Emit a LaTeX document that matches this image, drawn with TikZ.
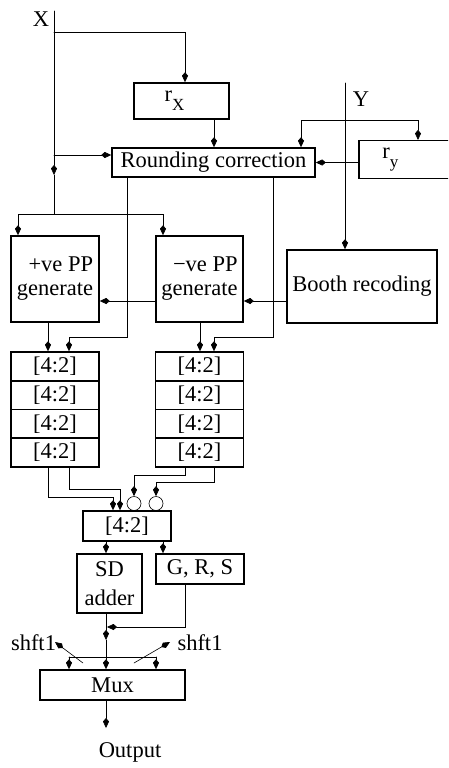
\documentclass[tikz,border=0pt]{standalone}
\usepackage{fontspec}
\setmainfont{Liberation Serif}
\usetikzlibrary{arrows.meta}
\newcommand{\lowsub}[1]{\raisebox{-9pt}{\fontsize{17}{17}\selectfont #1}}
\begin{document}
\begin{tikzpicture}[x=1pt, y=-1pt, font=\fontsize{22.5}{24}\selectfont, line width=0.6pt, line cap=round,
	arr/.style={-{Kite[length=10pt,width=6pt,inset=3.5pt]}},
	blk/.style={draw, line width=1.5pt, inner sep=0pt, align=center},
	cell/.style={blk, minimum width=88pt, minimum height=28.75pt},
	lbl/.style={inner sep=0pt}]
	\useasboundingbox (0,0) rectangle (448,768);
	\clip (0,0) rectangle (448,768);
	\node[blk, minimum width=95pt, minimum height=36pt] (rx) at (181.5,101) {r\lowsub{X}\hspace{14pt}};
	\node[blk, minimum width=203pt, minimum height=29pt] (round) at (213.5,162.5) {Rounding correction};
	\node[anchor=west, minimum width=120pt, minimum height=37pt, text width=74pt, inner xsep=23pt, inner ysep=0pt, align=left] (ry) at (359,159.5) {r\lowsub{y}};
	\draw[line width=1.5pt] (ry.north east) -- (ry.north west) -- (ry.south west) -- (ry.south east);
	\node[blk, minimum width=88pt, minimum height=86pt, align=right] (ppos) at (55,279) {+ve PP\\generate};
	\node[blk, minimum width=87pt, minimum height=86pt, align=right] (pneg) at (199.5,279) {−ve PP\\generate};
	\node[blk, minimum width=150pt, minimum height=73pt] (booth) at (362,286.5) {Booth recoding};
	\foreach \i/\y in {1/366.4, 2/395.1, 3/423.9, 4/452.6}{
		\node[cell] (l\i) at (55,\y) {[4:2]};
		\node[cell] (r\i) at (199.5,\y) {[4:2]};
	}
	\node[draw, circle, minimum size=14pt, inner sep=0pt] (c1) at (134,503.5) {};
	\node[draw, circle, minimum size=14pt, inner sep=0pt] (c2) at (156,503.5) {};
	\node[blk, minimum width=88pt, minimum height=30pt] (fin) at (127,526) {[4:2]};
	\node[blk, minimum width=65pt, minimum height=59pt] (sd) at (109.5,583.5) {SD\\[5pt]adder};
	\node[blk, minimum width=88pt, minimum height=30pt] (grs) at (200,569) {G, R, S};
	\node[blk, minimum width=145pt, minimum height=30pt] (mux) at (112.5,685) {Mux};
	\node[lbl] (xl) at (41,19.5) {X};
	\node[lbl] (yl) at (361,99) {Y};
	\node[lbl] (sl) at (33.5,643) {shft1};
	\node[lbl] (sr) at (200,643) {shft1};
	\node[lbl] (out) at (130,752) {Output};
	\coordinate (xtop) at (54,11);
	\coordinate (xbr) at (54,32);
	\coordinate (xrc) at (54,155);
	\coordinate (xmid) at (54,175);
	\coordinate (xsplit) at (54,214);
	\coordinate (ytop) at (345,83);
	\coordinate (ybr) at (345,120);
	\coordinate (sltip) at (55,642);
	\coordinate (srtip) at (170,642);
	\coordinate (sdmid) at (106,640);
	\coordinate (obot) at (106,728);
	\draw[arr] (xtop) -- (xmid);
	\draw (xmid) -- (xsplit);
	\draw[arr] (xbr) -| ([xshift=3.5pt]rx.north);
	\draw[arr] (xrc) -- (round.west |- xrc);
	\draw[arr] ([xshift=32.5pt]rx.south) -- ([xshift=32.5pt]rx.south |- round.north);
	\draw[arr] (ytop) -- (ytop |- booth.north);
	\draw[arr] (ybr) -| ([xshift=87.5pt]round.north);
	\draw[arr] (ybr) -| ([yshift=0.75pt]418,0 |- ry.north);
	\draw[arr] ([xshift=-0.75pt]ry.west |- round.east) -- (round.east);
	\draw[arr] (xsplit) -| ([xshift=-37pt]ppos.north);
	\draw[arr] (xsplit) -| ([xshift=-36.5pt]pneg.north);
	\draw[arr] (booth.west |- 0,301) -- (pneg.east |- 0,301);
	\draw[arr] (pneg.west |- 0,301) -- (ppos.east |- 0,301);
	\draw[arr] (round.south -| 127,0) |- (69,337) -- (l1.north -| 69,0);
	\draw[arr] (round.south -| 273,0) |- (214,337) -- (r1.north -| 214,0);
	\draw[arr] (ppos.south -| 48,0) -- (l1.north -| 48,0);
	\draw[arr] (pneg.south -| 200,0) -- (r1.north -| 200,0);
	\draw[arr] (l4.south -| 48,0) |- (113,497) -- (fin.north -| 113,0);
	\draw[arr] (l4.south -| 69,0) |- (120,489) -- (fin.north -| 120,0);
	\draw[arr] (r4.south -| 185,0) |- (134,475) -- (c1.north);
	\draw[arr] (r4.south -| 214,0) |- (156,482) -- (c2.north);
	\draw[arr] (fin.south -| 106,0) -- (sd.north -| 106,0);
	\draw[arr] (fin.south -| 163,0) -- (grs.north -| 163,0);
	\draw[arr] (grs.south -| 185,0) |- (107,627);
	\draw[arr] (sd.south -| 106,0) -- (sdmid);
	\draw[arr] (sdmid) -- (mux.north -| 106,0);
	\draw (69,657) -- (156,657);
	\draw[arr] (69,657) -- (mux.north -| 69,0);
	\draw[arr] (156,657) -- (mux.north -| 156,0);
	\draw[arr] (83,663) -- (sltip);
	\draw[arr] (134,663) -- (srtip);
	\draw[arr] (mux.south -| 106,0) -- (obot);
\end{tikzpicture}
\end{document}
